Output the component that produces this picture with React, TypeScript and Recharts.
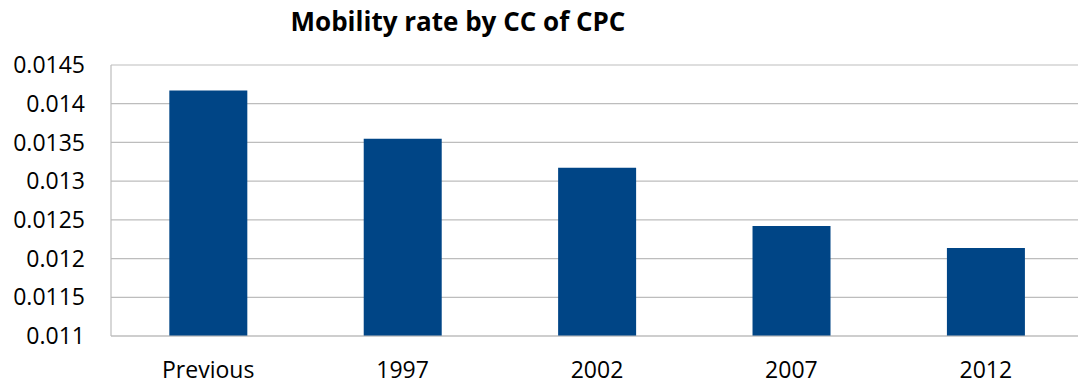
import { Bar, BarChart, CartesianGrid, XAxis, YAxis } from "recharts";

const categories = ["Previous", "1997", "2002", "2007", "2012"];
const mobilityRate = [0.01417, 0.013548, 0.013172, 0.012421, 0.012136];
const yTicks = [0.011, 0.0115, 0.012, 0.0125, 0.013, 0.0135, 0.014, 0.0145];

const data = categories.map((name, i) => ({ name, rate: mobilityRate[i] }));

const font = "'Open Sans', sans-serif";

export default function App() {
  return (
    <div
      style={{
        position: "absolute",
        left: 0,
        top: 0,
        width: 1078,
        height: 385,
        overflow: "hidden",
        background: "#fff",
        fontFamily: font,
      }}
    >
      <div
        style={{
          position: "absolute",
          left: 0,
          width: 916,
          top: 3,
          textAlign: "center",
          fontWeight: 700,
          fontSize: 26,
          color: "#000",
        }}
      >
        Mobility rate by CC of CPC
      </div>
      <BarChart
        width={1090}
        height={385}
        data={data}
        margin={{ top: 65, right: 7, left: 0, bottom: 0 }}
        barCategoryGap="30%"
      >
        <CartesianGrid vertical={false} stroke="#bdbdbd" strokeWidth={1.2} />
        <XAxis
          dataKey="name"
          height={49}
          tickLine={false}
          tickSize={0}
          tickMargin={26}
          axisLine={{ stroke: "#bdbdbd", strokeWidth: 1.2 }}
          tick={{ fill: "#000", fontSize: 23, fontFamily: font }}
        />
        <YAxis
          width={111}
          domain={[0.011, 0.0145]}
          ticks={yTicks}
          interval={0}
          tickLine={false}
          tickSize={0}
          tickMargin={26}
          axisLine={{ stroke: "#bdbdbd", strokeWidth: 1.2 }}
          tick={{ fill: "#000", fontSize: 23, fontFamily: font }}
        />
        <Bar dataKey="rate" fill="#004586" isAnimationActive={false} />
      </BarChart>
    </div>
  );
}
